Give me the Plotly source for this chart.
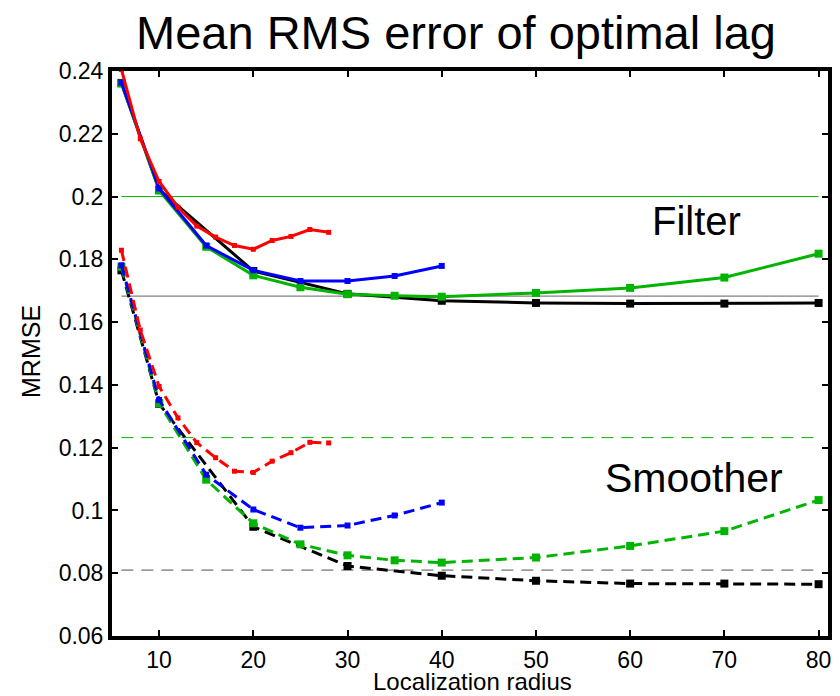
import plotly.graph_objects as go

# ---- data ----
red_x = [6, 8, 10, 12, 14, 16, 18, 20, 22, 24, 26, 28]
red_filter = [0.2405, 0.2184, 0.2048, 0.1966, 0.1906, 0.1871, 0.1844, 0.1832, 0.1860, 0.1873, 0.1895, 0.1886]
red_smoother = [0.1829, 0.1575, 0.1395, 0.1295, 0.1216, 0.1168, 0.1125, 0.1121, 0.1157, 0.1184, 0.1217, 0.1215]

blue_x = [6, 10, 15, 20, 25, 30, 35, 40]
blue_filter = [0.2363, 0.2026, 0.1844, 0.1765, 0.1731, 0.1731, 0.1747, 0.1779]
blue_smoother = [0.1781, 0.1352, 0.1114, 0.1003, 0.0945, 0.0952, 0.0984, 0.1025]

green_x = [6, 10, 15, 20, 25, 30, 35, 40, 50, 60, 70, 80]
green_filter = [0.2360, 0.2019, 0.1840, 0.1749, 0.1711, 0.1689, 0.1684, 0.1681, 0.1693, 0.1709, 0.1742, 0.1818]
green_smoother = [0.1776, 0.1342, 0.1098, 0.0959, 0.0892, 0.0857, 0.0841, 0.0834, 0.0850, 0.0887, 0.0934, 0.1033]

black_x = [6, 10, 20, 30, 40, 50, 60, 70, 80]
black_filter = [0.2362, 0.2022, 0.1763, 0.1690, 0.1668, 0.1661, 0.1659, 0.1659, 0.1661]
black_smoother = [0.1765, 0.1340, 0.0948, 0.0823, 0.0792, 0.0776, 0.0767, 0.0767, 0.0765]

ref_x = [6, 80]
ref_green_filter = 0.2000
ref_black_filter = 0.1683
ref_green_smoother = 0.1232
ref_black_smoother = 0.0810

x_ticks = [10, 20, 30, 40, 50, 60, 70, 80]
y_ticks = [0.06, 0.08, 0.10, 0.12, 0.14, 0.16, 0.18, 0.20, 0.22, 0.24]
y_ticktext = ["0.06", "0.08", "0.1", "0.12", "0.14", "0.16", "0.18", "0.2", "0.22", "0.24"]

GREEN = "#00b400"
RED = "#ff0000"
BLUE = "#0000ff"
BLACK = "#000000"
DASH = "11px,6px"

fig = go.Figure()

# reference lines
fig.add_trace(go.Scatter(x=ref_x, y=[ref_green_filter] * 2, mode="lines",
                         line=dict(color=GREEN, width=1), showlegend=False))
fig.add_trace(go.Scatter(x=ref_x, y=[ref_black_filter] * 2, mode="lines",
                         line=dict(color="#808080", width=1.2), showlegend=False))
fig.add_trace(go.Scatter(x=ref_x, y=[ref_green_smoother] * 2, mode="lines",
                         line=dict(color=GREEN, width=1, dash="12px,8px"), showlegend=False))
fig.add_trace(go.Scatter(x=ref_x, y=[ref_black_smoother] * 2, mode="lines",
                         line=dict(color="#505050", width=1, dash="12px,8px"), showlegend=False))

series = [
    (black_x, black_filter, black_smoother, BLACK, 8),
    (green_x, green_filter, green_smoother, GREEN, 8),
    (blue_x, blue_filter, blue_smoother, BLUE, 6),
    (red_x, red_filter, red_smoother, RED, 5),
]
for xs, yf, ys, col, ms in series:
    fig.add_trace(go.Scatter(x=xs, y=yf, mode="lines+markers",
                             line=dict(color=col, width=3),
                             marker=dict(symbol="square", size=ms, color=col),
                             showlegend=False))
    fig.add_trace(go.Scatter(x=xs, y=ys, mode="lines+markers",
                             line=dict(color=col, width=3, dash=DASH),
                             marker=dict(symbol="square", size=ms, color=col),
                             showlegend=False))

FONT = "Liberation Sans, Arial, Helvetica, sans-serif"

fig.add_annotation(x=67, y=0.1922, xref="x", yref="y", text="Filter", showarrow=False,
                   font=dict(family=FONT, size=40, color="black"))
fig.add_annotation(x=66.8, y=0.1103, xref="x", yref="y", text="Smoother", showarrow=False,
                   font=dict(family=FONT, size=41, color="black"))
# axis titles (paper coords relative to plot area)
fig.add_annotation(x=0.5028, y=-0.0800, xref="paper", yref="paper",
                   text="Localization radius", showarrow=False, xanchor="center", yanchor="middle",
                   font=dict(family=FONT, size=24, color="black"))
fig.add_annotation(x=-0.1131, y=0.5027, xref="paper", yref="paper",
                   text="MRMSE", showarrow=False, textangle=-90, xanchor="center", yanchor="middle",
                   font=dict(family=FONT, size=25, color="black"))

# page has an 8px body margin, so the figure is 832x688 drawn at offset (8, 8)
fig.update_layout(
    width=832, height=688,
    paper_bgcolor="white", plot_bgcolor="white",
    margin=dict(l=104, r=12, t=63, b=60, autoexpand=False),
    font=dict(family=FONT, color="black"),
    title=dict(text="Mean RMS error of optimal lag", x=448 / 832, xanchor="center",
               y=1 - 25 / 688, yanchor="middle", font=dict(family=FONT, size=47, color="black")),
    xaxis=dict(range=[5, 81], tickvals=x_ticks, ticks="inside", ticklen=6, tickwidth=2,
               tickcolor="black", showline=True, linewidth=4, linecolor="black",
               mirror="ticks", showgrid=False, zeroline=False, automargin=False,
               tickfont=dict(size=23, family=FONT)),
    yaxis=dict(range=[0.06, 0.24], tickvals=y_ticks, ticktext=y_ticktext, ticks="inside",
               ticklen=6, tickwidth=2, tickcolor="black", showline=True, linewidth=4,
               linecolor="black", mirror="ticks", showgrid=False, zeroline=False,
               automargin=False, tickfont=dict(size=23, family=FONT)),
)

fig.write_html("out.html")
